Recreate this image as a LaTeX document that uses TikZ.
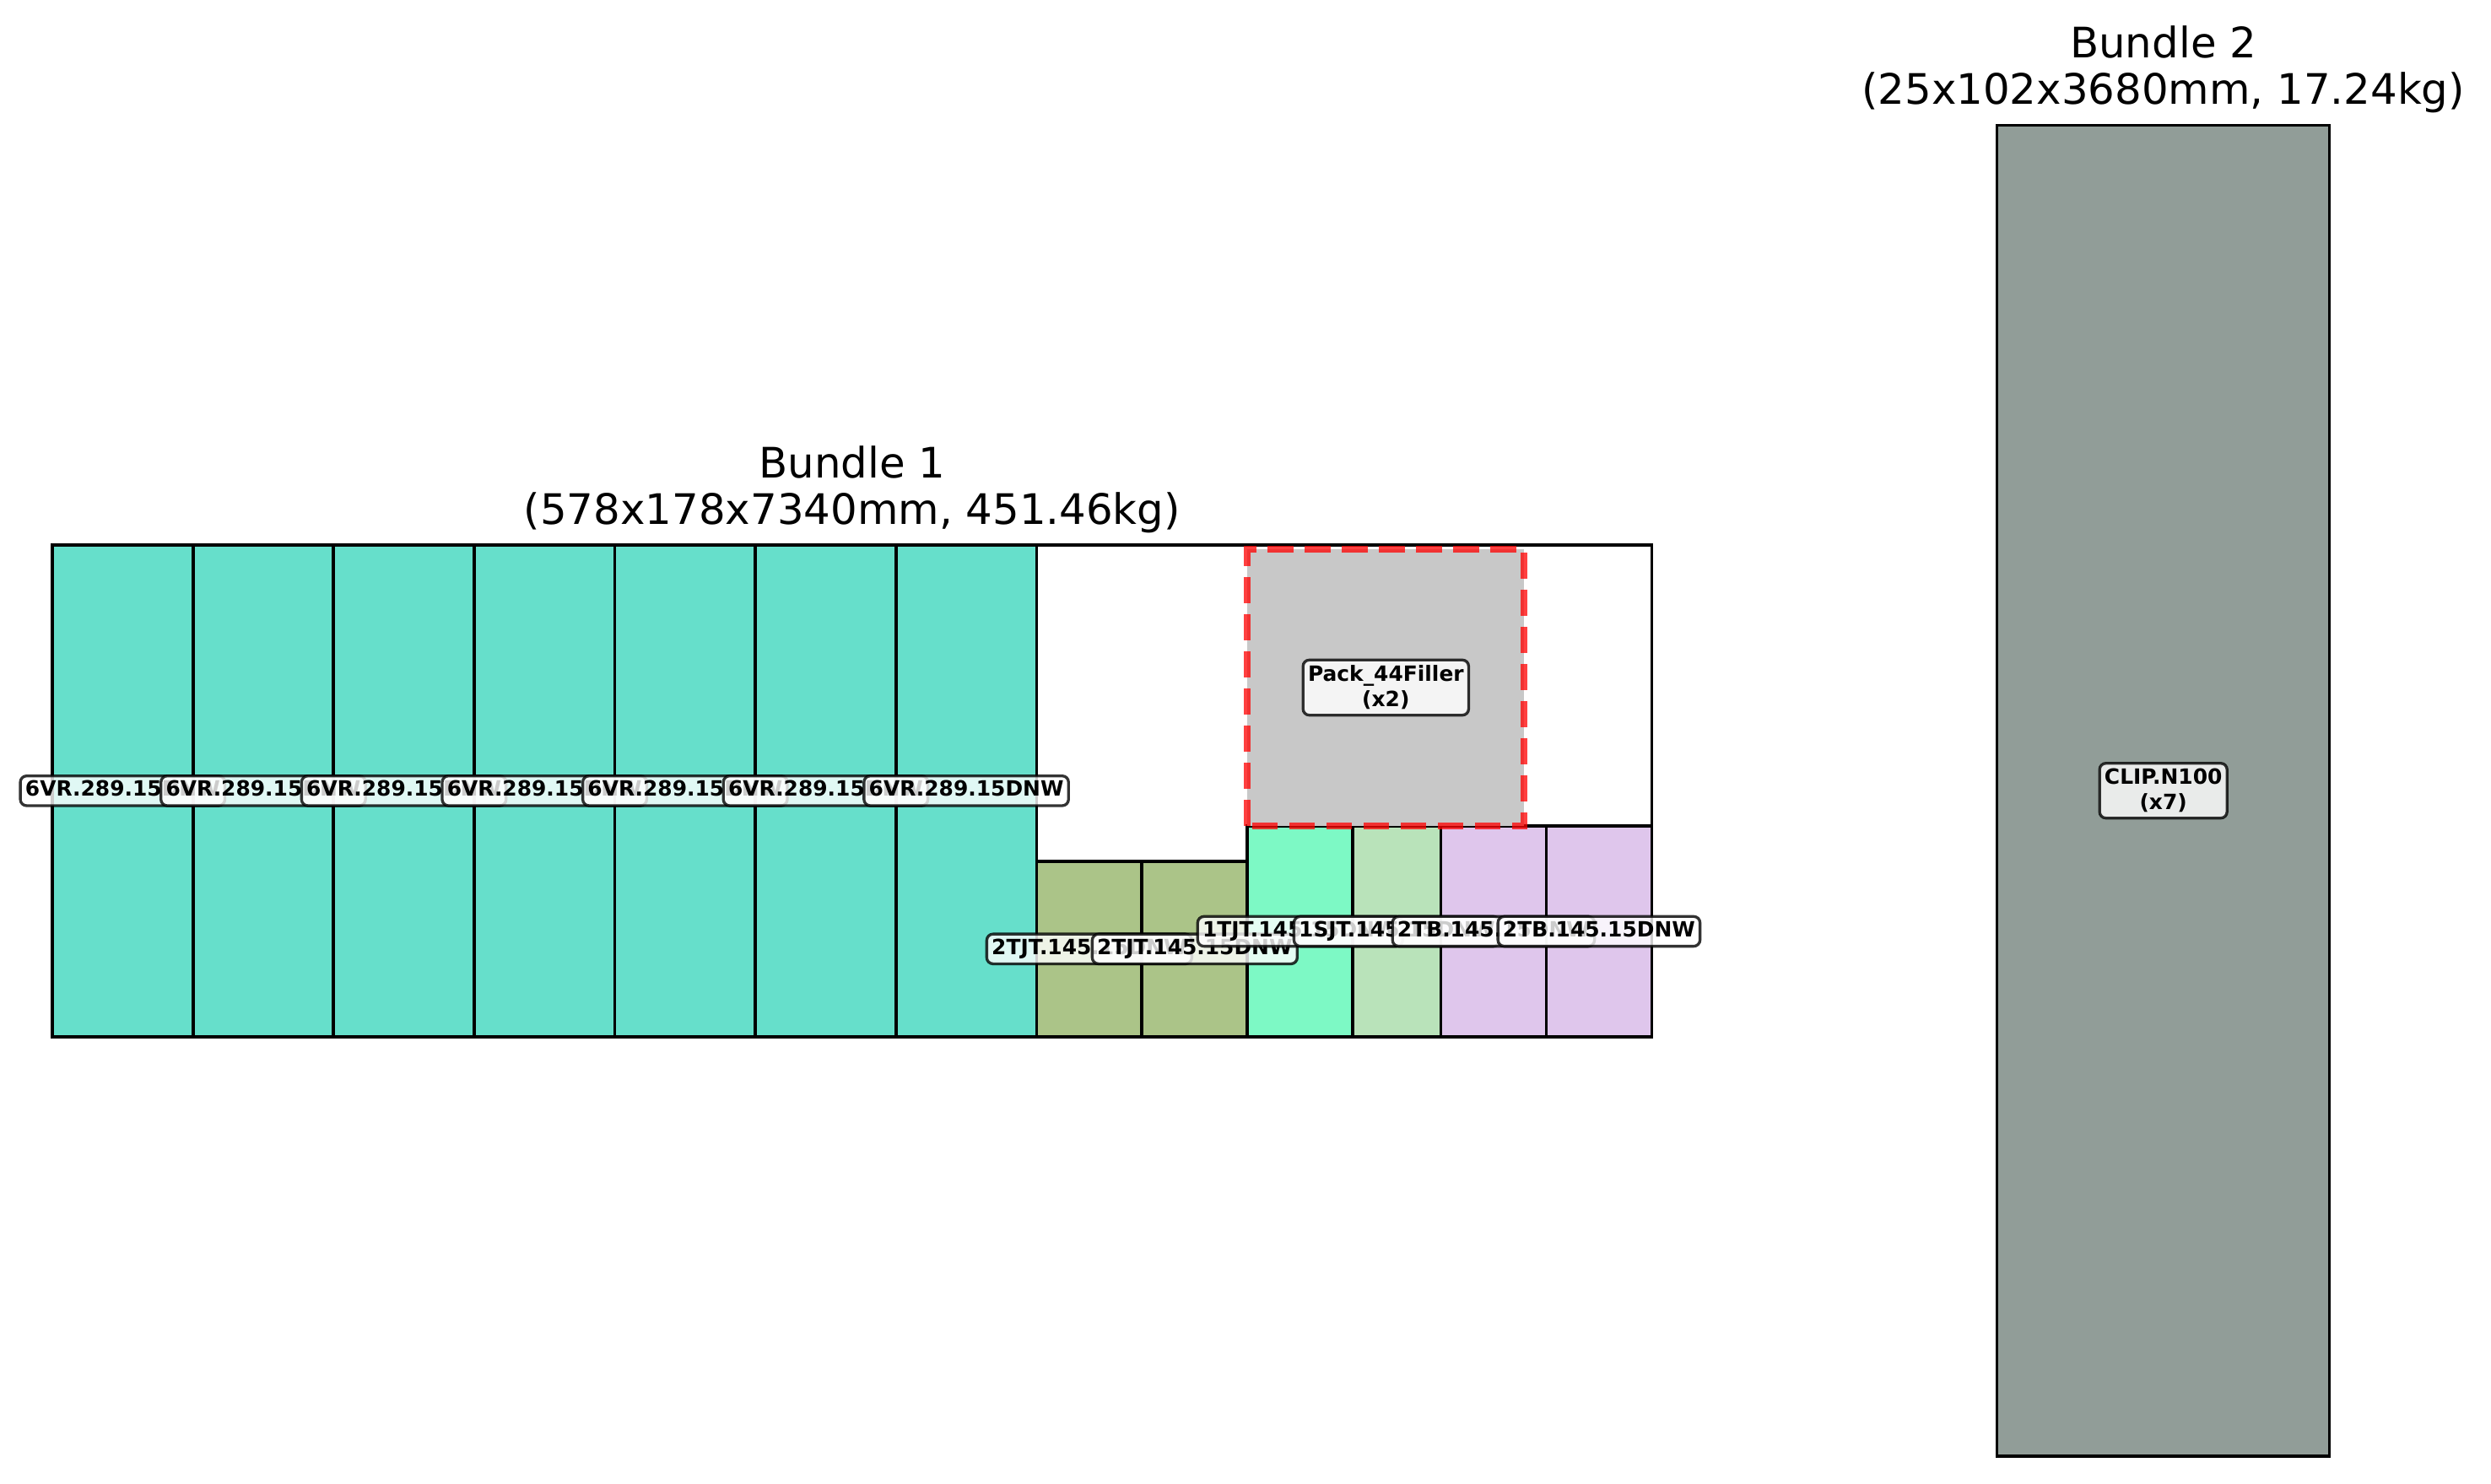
\documentclass[tikz,border=0pt]{standalone}
\usepackage{fontspec}
\setmainfont{DejaVu Sans}
\usepackage{xcolor}
\definecolor{vrteal}{HTML}{66DFCB}
\definecolor{tjtolive}{HTML}{ABC488}
\definecolor{tjtmint}{HTML}{7DF9C5}
\definecolor{sjtgreen}{HTML}{B9E3BA}
\definecolor{tblavender}{HTML}{DFC6EC}
\definecolor{fillergrey}{HTML}{C8C8C8}
\definecolor{clipgrey}{HTML}{919D98}

\begin{document}
\begin{tikzpicture}[
    box/.style={draw=black, line width=0.9pt},
    partlabel/.style={draw=black, draw opacity=0.8, fill=white, fill opacity=0.8, text opacity=1,
        line width=0.8pt, rounded corners=1.8pt, inner xsep=1.4pt, inner ysep=1.45pt,
        text height=4.4pt, text depth=1.2pt, font=\bfseries\fontsize{6}{7.2}\selectfont},
    multilabel/.style={draw=black, draw opacity=0.8, fill=white, fill opacity=0.8, text opacity=1,
        line width=0.8pt, rounded corners=1.8pt, inner xsep=1.4pt, inner ysep=1.6pt,
        align=center, font=\bfseries\fontsize{6}{7.2}\selectfont},
    bundletitle/.style={align=center, inner sep=0pt, anchor=south, font=\fontsize{12}{13.2}\selectfont}
]
    \useasboundingbox (-0.525,-4.487) rectangle (24.469,10.405);

    % Bundle 1, drawn in mm
    \begin{scope}[x=0.027773cm, y=0.027773cm]
        % Outline of the bundle
        \draw[box, fill=white] (0,0) rectangle (577.85,177.8);

        % 6VR columns
        \draw[box, fill=vrteal] (0,0) rectangle (50.8,177.8);
        \draw[box, fill=vrteal] (50.8,0) rectangle (101.6,177.8);
        \draw[box, fill=vrteal] (101.6,0) rectangle (152.4,177.8);
        \draw[box, fill=vrteal] (152.4,0) rectangle (203.2,177.8);
        \draw[box, fill=vrteal] (203.2,0) rectangle (254,177.8);
        \draw[box, fill=vrteal] (254,0) rectangle (304.8,177.8);
        \draw[box, fill=vrteal] (304.8,0) rectangle (355.6,177.8);

        % 2TJT pieces
        \draw[box, fill=tjtolive] (355.6,0) rectangle (393.7,63.5);
        \draw[box, fill=tjtolive] (393.7,0) rectangle (431.8,63.5);

        % 1TJT, 1SJT and 2TB pieces
        \draw[box, fill=tjtmint] (431.8,0) rectangle (469.9,76.2);
        \draw[box, fill=sjtgreen] (469.9,0) rectangle (501.65,76.2);
        \draw[box, fill=tblavender] (501.65,0) rectangle (539.75,76.2);
        \draw[box, fill=tblavender] (539.75,0) rectangle (577.85,76.2);

        % Filler pack
        \fill[fillergrey] (431.8,76.2) rectangle (531.8,176.2);
        \draw[red, draw opacity=0.75, line width=2pt, dash pattern=on 7.4pt off 3.2pt] (431.8,76.2) rectangle (531.8,176.2);

        % Labels
        \node[partlabel] (vr1) at (25.4,88.9) {6VR.289.15DNW};
        \node[partlabel] (vr2) at (76.2,88.9) {6VR.289.15DNW};
        \node[partlabel] (vr3) at (127,88.9) {6VR.289.15DNW};
        \node[partlabel] (vr4) at (177.8,88.9) {6VR.289.15DNW};
        \node[partlabel] (vr5) at (228.6,88.9) {6VR.289.15DNW};
        \node[partlabel] (vr6) at (279.4,88.9) {6VR.289.15DNW};
        \node[partlabel] (vr7) at (330.2,88.9) {6VR.289.15DNW};
        \node[partlabel] (tjt1) at (374.65,31.75) {2TJT.145.15DNW};
        \node[partlabel] (tjt2) at (412.75,31.75) {2TJT.145.15DNW};
        \node[partlabel] (onetjt) at (450.85,38.1) {1TJT.145.15DNW};
        \node[partlabel] (onesjt) at (485.775,38.1) {1SJT.145.15DNW};
        \node[partlabel] (tb1) at (520.7,38.1) {2TB.145.15DNW};
        \node[partlabel] (tb2) at (558.8,38.1) {2TB.145.15DNW};
        \node[multilabel] (filler) at (481.8,126.2) {Pack\_44Filler\\(x2)};
    \end{scope}

    % Bundle 2
    \draw[box, line width=0.8pt, fill=clipgrey] (19.513,-4.208) rectangle (22.849,9.148);
    \node[multilabel] (clip) at (21.181,2.47) {CLIP.N100\\(x7)};

    % Titles
    \node[bundletitle] (title1) at (8.026,5.048) {Bundle 1\\(578x178x7340mm, 451.46kg)};
    \node[bundletitle] (title2) at (21.181,9.268) {Bundle 2\\(25x102x3680mm, 17.24kg)};
\end{tikzpicture}
\end{document}
